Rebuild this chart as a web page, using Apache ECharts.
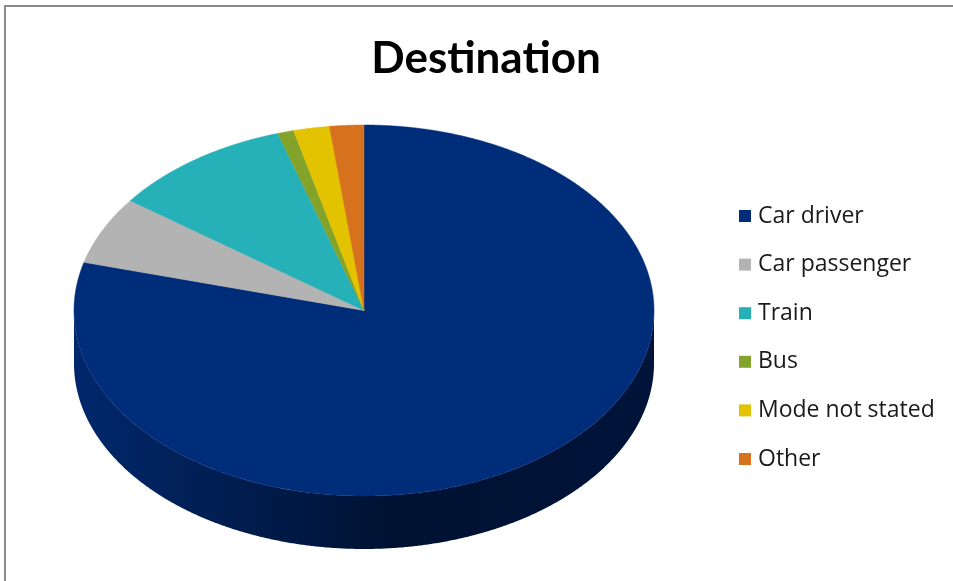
<!DOCTYPE html>
<html>
<head>
<meta charset="utf-8">
<script src="https://cdn.jsdelivr.net/npm/echarts@6/dist/echarts.min.js"></script>
<style>
html,body{margin:0;padding:0;background:#fff;}
#chart{width:953px;height:581px;}
</style>
</head>
<body>
<div id="chart"></div>
<script>
// ---- data ----
const categories = ['Car driver', 'Car passenger', 'Train', 'Bus', 'Mode not stated', 'Other'];
const values = [79.1, 5.9, 10.1, 0.9, 2.0, 1.9];
const titleText = 'Destination';

// ---- style ----
const colors = ['#002D7A', '#B3B3B3', '#26B1B8', '#84A32B', '#E3C200', '#D6711E'];
const sideGradients = [
  ['#00286c', '#001232', '#00143a'],
  ['#8a8a8a', '#555555', '#606060'],
  ['#1c868b', '#0f4a4d', '#125558'],
  ['#647a20', '#384510', '#3f4e14'],
  ['#ab9200', '#5e5000', '#6a5a00'],
  ['#a25516', '#5a2f0b', '#66350d']
];
const layout = { cx: 364, cy: 310.5, rx: 290, ry: 185.5, depth: 53 };

const total = values.reduce((s, v) => s + v, 0);

function makeRender(idx) {
  return function (params, api) {
    const before = values.slice(0, idx).reduce((s, v) => s + v, 0);
    const start = before / total * Math.PI * 2;
    const end = start + api.value(0) / total * Math.PI * 2;
    const cx = layout.cx, cy = layout.cy, a = layout.rx, b = layout.ry, d = layout.depth;
    const pt = (t, off) => [cx + a * Math.sin(t), cy - b * Math.cos(t) + (off || 0)];
    const arc = (t1, t2, off) => {
      const n = Math.max(2, Math.ceil((t2 - t1) / 0.005));
      const pts = [];
      for (let i = 0; i <= n; i++) pts.push(pt(t1 + (t2 - t1) * i / n, off));
      return pts;
    };
    const children = [];
    const f1 = Math.max(start, Math.PI / 2), f2 = Math.min(end, Math.PI * 1.5);
    if (f2 > f1) {
      const topArc = arc(f1, f2, 0);
      const botArc = arc(f1, f2, d).reverse();
      const g = sideGradients[idx];
      children.push({
        type: 'polygon',
        z2: 1,
        shape: { points: topArc.concat(botArc) },
        style: {
          fill: new echarts.graphic.LinearGradient(0, 0, 1, 0, [
            { offset: 0, color: g[0] },
            { offset: 0.55, color: g[1] },
            { offset: 1, color: g[2] }
          ], false),
          stroke: null
        }
      });
    }
    const face = [[cx, cy]].concat(arc(start, end, 0));
    children.push({
      type: 'polygon',
      z2: 10,
      shape: { points: face },
      style: { fill: colors[idx], stroke: colors[idx], lineWidth: 0.5 }
    });
    return { type: 'group', children: children };
  };
}

const series = categories.map((name, i) => ({
  type: 'custom',
  name: name,
  coordinateSystem: 'none',
  silent: true,
  itemStyle: { color: colors[i] },
  renderItem: makeRender(i),
  data: [[values[i]]]
}));

const chart = echarts.init(document.getElementById('chart'), null, { renderer: 'canvas' });
chart.setOption({
  animation: false,
  backgroundColor: '#ffffff',
  title: {
    text: titleText,
    left: 486,
    textAlign: 'center',
    top: 37,
    padding: 0,
    textStyle: { fontFamily: 'Lato', fontWeight: 'bold', fontSize: 44, color: '#000' }
  },
  legend: {
    orient: 'vertical',
    left: 739,
    top: 204,
    padding: 0,
    icon: 'rect',
    itemWidth: 12,
    itemHeight: 12,
    itemGap: 24.6,
    selectedMode: false,
    data: categories,
    textStyle: { fontFamily: 'Open Sans', fontSize: 23, color: '#1a1a1a', lineHeight: 24, padding: [0, 0, 0, 2] }
  },
  graphic: [
    { type: 'line', shape: { x1: 4, y1: 6, x2: 953, y2: 6 }, style: { stroke: '#8a8a8a', lineWidth: 2 } },
    { type: 'line', shape: { x1: 5, y1: 5, x2: 5, y2: 581 }, style: { stroke: '#8a8a8a', lineWidth: 2 } }
  ],
  series: series
});
</script>
</body>
</html>
